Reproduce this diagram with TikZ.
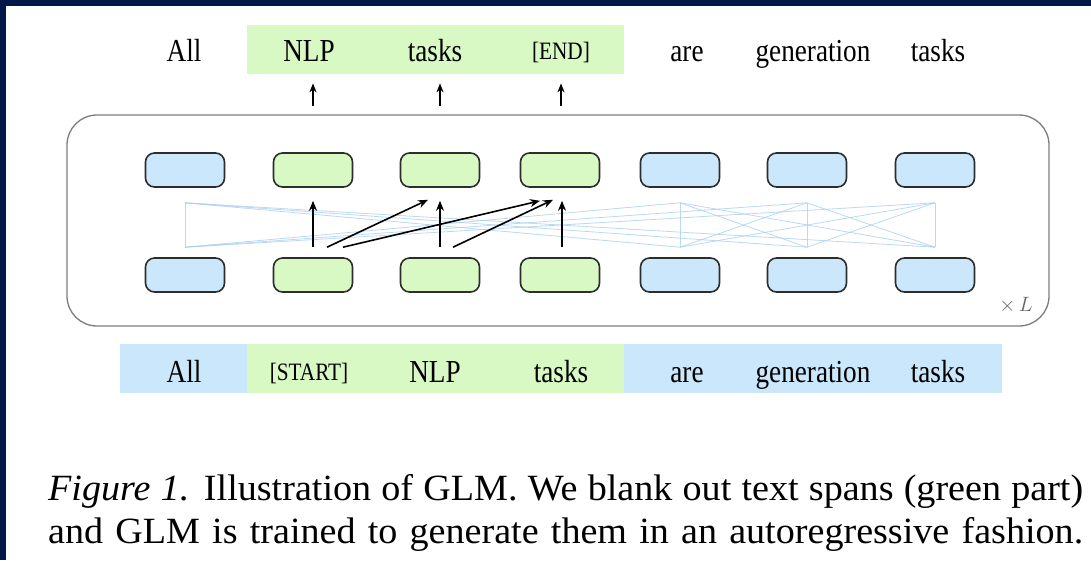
\documentclass[tikz,border=0pt]{standalone}
\usepackage{fontspec}
\setmainfont{Liberation Serif}
\newfontfamily\labfont[FakeStretch=0.85]{Liberation Serif}
\newfontfamily\capfont[FakeStretch=1.03]{Liberation Serif}
\usetikzlibrary{arrows.meta,calc}

\definecolor{navy}{RGB}{2,24,72}
\definecolor{tokblue}{RGB}{202,231,251}
\definecolor{tokgreen}{RGB}{216,249,196}
\definecolor{edgedark}{RGB}{45,45,45}
\definecolor{framegray}{RGB}{125,125,125}
\definecolor{attn}{RGB}{165,205,242}

\tikzset{
  tok/.style={draw=edgedark, line width=1.6pt, rounded corners=9pt,
    minimum width=79pt, minimum height=34pt, inner sep=0pt},
  ctx/.style={tok, fill=tokblue},
  span/.style={tok, fill=tokgreen},
  word/.style={inner sep=0pt, anchor=base, font=\labfont\fontsize{32}{36}\selectfont},
  smallword/.style={inner sep=0pt, anchor=base, font=\labfont\fontsize{25}{30}\selectfont},
  flow/.style={draw=black, line width=1.6pt, -{Stealth[length=10pt,width=8pt]}},
  outflow/.style={draw=black, line width=1.4pt, -{Stealth[length=9pt,width=7pt]}},
  attnline/.style={draw=attn, line width=0.8pt, opacity=0.75},
}

\begin{document}
\begin{tikzpicture}[x=1pt,y=-1pt]
% page: dark slide border and white figure area
\fill[navy] (0,0) rectangle (1091,560);
\fill[white] (6,6) rectangle (1091,560);
\useasboundingbox (0,0) rectangle (1091,560);

% highlighted strips behind the words
\fill[tokgreen] (247,25) rectangle (624,74);
\fill[tokblue] (120,344) rectangle (247,393);
\fill[tokgreen] (247,344) rectangle (624,393);
\fill[tokblue] (624,344) rectangle (1002,393);

% transformer block
\node[draw=framegray, line width=1.3pt, rounded corners=30pt,
  minimum width=982pt, minimum height=211pt, inner sep=0pt] (block) at (558,220.5) {};
\node[text=black!60, font=\fontsize{22}{24}\selectfont, anchor=center] (times) at (1016,305) {$\times\,L$};

% token boxes (bottom: input, top: output)
\foreach \i/\x/\s in {1/185/ctx,2/313/span,3/440/span,4/560/span,5/680/ctx,6/807/ctx,7/935/ctx}{
  \node[\s] (b\i) at (\x,275) {};
  \node[\s] (u\i) at (\x,170) {};
  \coordinate (lo\i) at ($(b\i.north)+(0,-10)$);
  \coordinate (hi\i) at ($(u\i.south)+(0,15)$);
}

% bidirectional attention among context tokens
\foreach \a in {1,5,6,7}{
  \foreach \b in {1,5,6,7}{
    \draw[attnline] (lo\a) -- (hi\b);
  }
}

% autoregressive attention within the span
\draw[flow] ($(b2.north)+(0,-10)$) -- ($(u2.south)+(0,13)$);
\draw[flow] ($(b2.north)+(14,-10)$) -- ($(u3.south)+(-12,12)$);
\draw[flow] ($(b2.north)+(30,-10)$) -- ($(u4.south)+(-20,13)$);
\draw[flow] ($(b3.north)+(0,-10)$) -- ($(u3.south)+(0,13)$);
\draw[flow] ($(b3.north)+(13,-10)$) -- ($(u4.south)+(-7,12)$);
\draw[flow] ($(b4.north)+(2,-10)$) -- ($(u4.south)+(2,13)$);

% output words
\node[word] (o1) at (184,61) {All};
\node[word] (o2) at (309,61) {NLP};
\node[word] (o3) at (435,61) {tasks};
\node[smallword] (o4) at (561,59) {[END]};
\node[word] (o5) at (687,61) {are};
\node[word] (o6) at (813,61) {generation};
\node[word] (o7) at (938,61) {tasks};

% input words
\node[word] (i1) at (184,382) {All};
\node[smallword] (i2) at (309,380) {[START]};
\node[word] (i3) at (435,382) {NLP};
\node[word] (i4) at (561,382) {tasks};
\node[word] (i5) at (687,382) {are};
\node[word] (i6) at (813,382) {generation};
\node[word] (i7) at (938,382) {tasks};

% outputs of the span tokens
\foreach \i/\dx in {2/0,3/0,4/1}{
  \coordinate (ps\i) at ($(block.north -| u\i)+(\dx,-8)$);
  \coordinate (pe\i) at ($(block.north -| u\i)+(\dx,-31)$);
  \draw[outflow] (ps\i) -- (pe\i);
}

% caption, justified to the full line width
\node[anchor=base west, inner sep=0pt] (cap) at (48,500)
  {\parbox[t]{1035pt}{\capfont\fontsize{37}{43}\selectfont\hbadness=10000\parfillskip=0pt
   \textit{Figure 1.} Illustration of GLM. We blank out text spans (green part)\linebreak
   and GLM is trained to generate them in an autoregressive fashion.}};
\end{tikzpicture}
\end{document}
